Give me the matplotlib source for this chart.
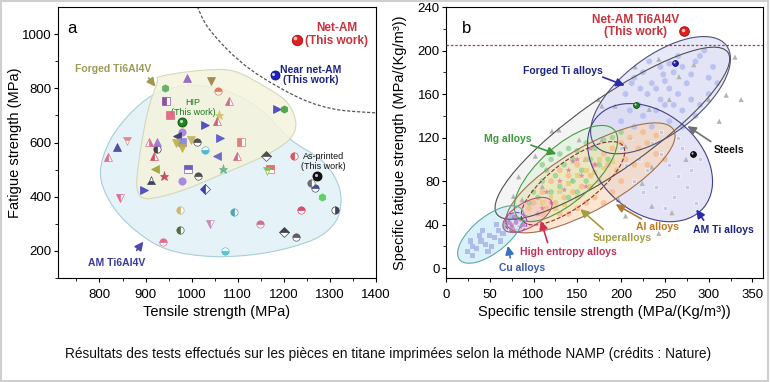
import numpy as np
import matplotlib
matplotlib.use('Agg')
import matplotlib.pyplot as plt
from matplotlib.path import Path
from matplotlib.patches import PathPatch, Ellipse, Rectangle
from matplotlib.transforms import Affine2D, ScaledTranslation

plt.rcParams['font.family'] = ['Liberation Sans', 'DejaVu Sans']

# ---------------- panel a data ----------------
a_x = [942, 989, 1041, 1057, 945, 1081, 954, 1059, 1054, 1028, 980, 969, 980, 967, 980, 999,
       1012, 1030, 1061, 1055, 1108, 1098, 1067, 991, 1014, 980, 941, 920, 918, 925, 907, 925,
       911, 897, 1030, 818, 837, 860, 844, 974, 974, 938, 1040, 1092, 1072, 1149, 1201, 1226,
       1237, 1312, 1282, 1267, 1259, 1222, 1162, 1170, 1164, 1185, 1201]
a_y = [800, 838, 828, 789, 752, 752, 700, 703, 679, 663, 638, 623, 601, 599, 578, 611,
       601, 572, 617, 552, 601, 552, 501, 503, 476, 458, 476, 501, 550, 577, 601, 601,
       462, 425, 427, 547, 584, 605, 396, 351, 277, 231, 298, 345, 198, 301, 271, 251,
       351, 351, 400, 431, 452, 550, 552, 501, 493, 724, 722]

# this work (panel a)
net_am_a = (1228, 979)
near_net_a = (1180, 850)
hip_a = (980, 675)
printed_a = (1272, 476)

# region outlines (panel a)
forged_region = [(933, 844), (1020, 866), (1092, 863), (1164, 801), (1208, 746), (1226, 672),
                 (1212, 611), (1157, 550), (1056, 476), (976, 421), (904, 393), (882, 427),
                 (886, 537), (904, 709), (925, 820)]
am_region = [(802, 488), (824, 611), (875, 721), (933, 789), (1005, 810), (1078, 789),
             (1150, 721), (1215, 611), (1280, 537), (1313, 464), (1324, 390), (1313, 310),
             (1266, 243), (1164, 194), (1049, 179), (947, 206), (875, 280), (824, 378)]
limit_curve = [(1012, 1102), (1034, 1028), (1078, 942), (1128, 869), (1186, 807),
               (1251, 752), (1317, 721), (1402, 709)]

# ---------------- panel b data ----------------
steel_x = [216, 243, 283, 330, 320, 337, 312, 300, 266, 193, 178, 174, 129, 121, 102, 83, 77, 87,
           110, 144, 197, 205, 235, 243, 258, 224, 152, 159, 178, 205, 235, 274, 255, 232]
steel_y = [185, 192, 187, 194, 159, 155, 135, 155, 176, 149, 149, 155, 127, 126, 103, 84, 66, 63,
           75, 81, 63, 48, 57, 32, 51, 78, 118, 100, 118, 112, 93, 100, 155, 146]
forged_x = [215, 225, 235, 240, 250, 260, 270, 280, 290, 295, 285, 275, 265, 255, 245, 230, 220,
            210, 225, 240, 250, 260, 270, 280, 290, 300, 305, 265, 255, 245, 205, 200, 215, 235,
            255, 270, 285, 300, 310, 248, 232, 222, 212]
forged_y = [175, 180, 170, 165, 172, 180, 185, 178, 195, 200, 190, 170, 160, 165, 155, 160, 150,
            145, 140, 145, 150, 150, 145, 155, 150, 175, 185, 195, 188, 185, 160, 135, 130, 130,
            135, 130, 140, 160, 170, 178, 190, 165, 170]
amti_x = [200, 210, 220, 235, 245, 255, 265, 275, 240, 225, 215, 260, 250, 280, 270, 230, 205,
          290, 285, 245, 265]
amti_y = [110, 120, 100, 115, 105, 95, 85, 75, 75, 70, 80, 65, 55, 90, 110, 90, 95, 100, 60,
          125, 120]
al_x = [100, 110, 120, 130, 140, 150, 160, 170, 180, 190, 200, 210, 220, 230, 240, 250, 215, 195,
        175, 155, 135, 115, 125, 145, 165, 185, 205, 225, 200, 190, 180, 170, 160, 150, 140, 130,
        110, 95, 240, 230]
al_y = [60, 70, 80, 90, 85, 95, 100, 95, 105, 110, 115, 120, 110, 115, 105, 100, 95, 90, 80, 75,
        65, 55, 60, 70, 85, 95, 100, 125, 80, 70, 60, 65, 60, 55, 50, 50, 50, 55, 122, 95]
mg_x = [95, 100, 110, 115, 120, 130, 140, 150, 160, 170, 180, 125, 135, 145, 155, 165, 175, 105,
        120, 140, 150, 160, 185, 130, 110, 190, 200, 145]
mg_y = [60, 70, 80, 90, 100, 105, 110, 108, 115, 110, 118, 85, 95, 80, 90, 100, 95, 65, 70, 65,
        70, 80, 100, 75, 95, 120, 125, 100]
super_x = [110, 120, 130, 140, 150, 160, 170, 180, 190, 150, 165, 135, 125, 175]
super_y = [60, 65, 70, 78, 85, 90, 88, 92, 98, 65, 75, 58, 55, 100]
hea_x = [75, 80, 85, 78, 90, 110, 120, 135, 140, 150, 155, 170, 145, 165, 105, 130, 115, 160]
hea_y = [40, 45, 38, 35, 48, 55, 60, 72, 90, 100, 85, 95, 98, 110, 50, 80, 70, 75]
cu_x = [25, 30, 35, 40, 45, 50, 55, 60, 65, 30, 38, 48, 58, 70, 42, 28, 52, 62, 75, 68]
cu_y = [15, 20, 18, 25, 22, 30, 28, 35, 32, 12, 30, 15, 40, 45, 35, 25, 20, 25, 48, 38]
purple_x = [75, 80, 85, 78, 72, 88]
purple_y = [38, 42, 45, 47, 42, 40]

net_am_b = (272, 218)
forged_pt_b = (261, 189)
hip_pt_b = (217, 150)
printed_pt_b = (282, 105)
limit_b = 205


def smooth_path(pts, closed=True):
    P = np.asarray(pts, float)
    n = len(P)
    verts, codes = [P[0]], [Path.MOVETO]
    segs = n if closed else n - 1
    for i in range(segs):
        p0 = P[(i - 1) % n] if (closed or i > 0) else P[0]
        p1 = P[i % n]
        p2 = P[(i + 1) % n]
        p3 = P[(i + 2) % n] if (closed or i + 2 < n) else P[-1]
        verts += [p1 + (p2 - p0) / 6, p2 - (p3 - p1) / 6, p2]
        codes += [Path.CURVE4] * 3
    return Path(verts, codes)


def sphere(ax, xy, color, edge, ms):
    ax.plot(*xy, 'o', ms=ms, mfc=color, mec=edge, mew=0.6, zorder=6)
    off = ax.transData + ScaledTranslation(-ms * 0.13 / 72, ms * 0.13 / 72, ax.figure.dpi_scale_trans)
    ax.plot(*xy, 'o', ms=ms * 0.35, mfc='white', mec='none', alpha=0.75, transform=off, zorder=7)


def ellipse(ax, center, w, h, ang, **kw):
    cx, cy = ax.transData.transform(center)
    tr = Affine2D().rotate_deg(ang).translate(cx, cy)
    e = Ellipse((0, 0), w, h, transform=tr, **kw)
    ax.add_patch(e)


fig = plt.figure(figsize=(7.7, 3.82), dpi=100)
fig.patches.append(Rectangle((0.001, 0.002), 0.997, 0.996, transform=fig.transFigure,
                             fill=False, edgecolor='#cfcfcf', linewidth=1.5))

# ================= panel a =================
ax = fig.add_axes([58 / 770, 104 / 382, 318 / 770, 271 / 382])
ax.set_xlim(710, 1400)
ax.set_ylim(100, 1100)
ax.set_xticks(range(800, 1401, 100))
ax.set_xticks(range(750, 1400, 100), minor=True)
ax.set_yticks(range(200, 1001, 200))
ax.set_yticks(range(100, 1100, 200), minor=True)

ax.add_patch(PathPatch(smooth_path(am_region), facecolor='#e5f2f8', edgecolor='#a6cfd8',
                       lw=0.8, zorder=1))
ax.add_patch(PathPatch(smooth_path(forged_region), facecolor='#f4f4dc', edgecolor='#d2d2b0',
                       lw=0.8, alpha=0.85, zorder=1.5))
ax.add_patch(PathPatch(smooth_path(limit_curve, closed=False), facecolor='none',
                       edgecolor='#555555', lw=0.9, ls=(0, (2.5, 1.5)), zorder=2))

styles = [('h', '#5aaa5a', 'full'), ('^', '#9060c0', 'full'), ('v', '#a08040', 'full'),
          ('o', '#e07050', 'top'), ('s', '#8040a0', 'left'), ('^', '#d06080', 'left'),
          ('s', '#e06080', 'full'), ('*', '#d0c060', 'full'), ('^', '#d05070', 'left'),
          ('>', '#4040c0', 'full'), ('o', '#a080e0', 'full'), ('<', '#303060', 'full'),
          ('s', '#8080e0', 'full'), ('v', '#c0b040', 'full'), ('v', '#c0b040', 'full'),
          ('v', '#c0b060', 'full'), ('o', '#404040', 'top'), ('o', '#40b0d0', 'bottom'),
          ('>', '#5050d0', 'full'), ('<', '#6060c0', 'full'), ('s', '#e07070', 'left'),
          ('^', '#d06070', 'left'), ('*', '#60b090', 'full'), ('s', '#6050b0', 'top'),
          ('o', '#404040', 'top'), ('o', '#a080e0', 'full'), ('*', '#c04060', 'full'),
          ('<', '#a0a030', 'full'), ('^', '#d04060', 'left'), ('o', '#303030', 'left'),
          ('^', '#e06080', 'right'), ('^', '#a070d0', 'full'), ('^', '#303050', 'bottom'),
          ('>', '#4040c0', 'full'), ('D', '#3030a0', 'left'), ('^', '#e06080', 'left'),
          ('^', '#4040a0', 'full'), ('v', '#e08080', 'top'), ('v', '#e06080', 'left'),
          ('o', '#d0b060', 'left'), ('o', '#406030', 'left'), ('o', '#e06080', 'top'),
          ('v', '#c080b0', 'left'), ('o', '#40a0b0', 'left'), ('o', '#40c0d0', 'bottom'),
          ('o', '#d06080', 'top'), ('D', '#303040', 'top'), ('o', '#505050', 'top'),
          ('o', '#d04060', 'top'), ('o', '#303040', 'right'), ('h', '#50d050', 'full'),
          ('o', '#304080', 'top'), ('o', '#606060', 'left'), ('o', '#e04050', 'left'),
          ('D', '#404040', 'top'), ('s', '#e06060', 'top'), ('v', '#80c050', 'top'),
          ('>', '#4040c0', 'full'), ('h', '#40a040', 'full')]
for x, y, (m, c, fs) in zip(a_x, a_y, styles):
    ms = 6.5 if m == '*' else 5.3
    ax.plot(x, y, m, ms=ms, mfc=c, mec=c, mfcalt='white', fillstyle=fs, mew=0.5,
            alpha=0.9, zorder=4)

sphere(ax, net_am_a, '#e02020', '#a01010', 7.5)
sphere(ax, near_net_a, '#2020c0', '#101070', 6.5)
sphere(ax, hip_a, '#1a8a1a', '#0a4a0a', 6.5)
sphere(ax, printed_a, '#111111', '#000000', 6.5)

ax.text(0.03, 0.95, 'a', transform=ax.transAxes, fontsize=12, va='top')
ax.text(1314, 1000, 'Net-AM\n(This work)', color='#c8323c', fontsize=8.5, fontweight='bold',
        ha='center', va='center', linespacing=1.1)
ax.text(1258, 849, 'Near net-AM\n(This work)', color='#1c2480', fontsize=7.5, fontweight='bold',
        ha='center', va='center', linespacing=1.1)
ax.text(1003, 729, 'HIP\n(This work)', color='#1a7a1a', fontsize=6.5, ha='center', va='center',
        linespacing=1.2)
ax.text(1286, 529, 'As-printed\n(This work)', color='#111111', fontsize=6.5, ha='center',
        va='center', linespacing=1.2)
ax.text(830, 871, 'Forged Ti6Al4V', color='#9c9a58', fontsize=7.5, fontweight='bold',
        ha='center', va='center')
ax.annotate('', xy=(925, 798), xytext=(903, 846),
            arrowprops=dict(arrowstyle='-|>,head_width=0.25,head_length=0.5', color='#a09a50', lw=1.2))
ax.text(838, 157, 'AM Ti6Al4V', color='#3a3aa0', fontsize=7.5, fontweight='bold',
        ha='center', va='center')
ax.annotate('', xy=(899, 242), xytext=(877, 194),
            arrowprops=dict(arrowstyle='-|>,head_width=0.25,head_length=0.5', color='#4a4ab0', lw=1.2))

ax.set_xlabel('Tensile strength (MPa)', fontsize=10.5)
ax.set_ylabel('Fatigue strength (MPa)', fontsize=10.5)
ax.xaxis.set_label_coords(0.5, -0.10)
ax.yaxis.set_label_coords(-0.113, 0.5)

# ================= panel b =================
bx = fig.add_axes([446 / 770, 104 / 382, 317 / 770, 271 / 382])
bx.set_xlim(0, 362)
bx.set_ylim(-9, 240)
bx.set_xticks(range(0, 351, 50))
bx.set_xticks(range(25, 362, 50), minor=True)
bx.set_yticks(range(0, 241, 40))
bx.set_yticks(range(20, 240, 40), minor=True)

# region fills
regions = [((190, 124), 282, 72, 35, '#ececec', 0.55, '#505050', '-'),
           ((245, 159), 165, 78, 37, '#dde0f7', 0.7, '#50507a', '-'),
           ((233, 97), 140, 100, -40, '#dcdcf4', 0.75, '#404090', '-'),
           ((165, 83), 192, 62, 30, '#fbd6b4', 0.6, '#a07050', '-'),
           ((137, 87), 130, 55, 42, '#d6f0d0', 0.45, '#4a9a4a', '-'),
           ((145, 78), 125, 45, 37, '#f3e6a8', 0.35, '#8a3030', '--'),
           ((93, 49), 55, 25, 30, '#f8c4cc', 0.6, '#c05070', '-'),
           ((80, 42), 22, 20, 0, '#e8d0f0', 0.5, '#9050b0', '--'),
           ((51, 31), 80, 36, 39, '#d2eef8', 0.8, '#60a8a8', '-')]
for c, w, h, ang, fc, al, ec, ls in regions:
    ellipse(bx, c, w, h, ang, facecolor=fc, alpha=al, edgecolor='none', zorder=1)

bx.scatter(steel_x, steel_y, marker='^', s=14, color='#b4b4b4', edgecolors='none', zorder=2)
bx.scatter(forged_x, forged_y, marker='h', s=22, color='#b7bff0', edgecolors='none', alpha=0.9, zorder=2)
bx.scatter(amti_x, amti_y, marker='s', s=10, color='#c8c8e4', edgecolors='white', lw=0.4, zorder=2)
bx.scatter(al_x, al_y, marker='o', s=18, color='#f6b987', edgecolors='none', alpha=0.75, zorder=2)
bx.scatter(mg_x, mg_y, marker='o', s=16, color='#8cd08c', edgecolors='none', alpha=0.75, zorder=2)
bx.scatter(super_x, super_y, marker='s', s=12, color='#e3cf78', edgecolors='none', alpha=0.8, zorder=2)
bx.scatter(hea_x, hea_y, marker='*', s=22, color='#e070a8', edgecolors='none', alpha=0.8, zorder=2)
bx.scatter(cu_x, cu_y, marker='s', s=14, color='#a9b9e8', edgecolors='none', alpha=0.9, zorder=2)
bx.scatter(purple_x, purple_y, marker='o', s=12, color='#b070d0', edgecolors='none', alpha=0.7, zorder=2)

for c, w, h, ang, fc, al, ec, ls in regions:
    ellipse(bx, c, w, h, ang, facecolor='none', edgecolor=ec, lw=0.8, ls=ls, zorder=3)

bx.axhline(limit_b, color='#a04050', lw=0.9, ls=(0, (2, 1.5)), zorder=3)

sphere(bx, net_am_b, '#e02020', '#a01010', 7)
sphere(bx, forged_pt_b, '#2020c0', '#101070', 4.2)
sphere(bx, hip_pt_b, '#1a8a1a', '#0a4a0a', 4.2)
sphere(bx, printed_pt_b, '#111111', '#000000', 4.2)

bx.text(0.05, 0.95, 'b', transform=bx.transAxes, fontsize=12, va='top')
bx.text(216, 222.5, 'Net-AM Ti6Al4V\n(This work)', color='#c8323c', fontsize=8.5, fontweight='bold',
        ha='center', va='center', linespacing=1.1)

labels_b = [('Forged Ti alloys', (134, 181), (176, 176.5), (207, 167), '#1c2480', '#2a2ab0'),
            ('Mg alloys', (71, 119), (94, 114), (129, 104), '#3a9a3a', '#3a9a3a'),
            ('Steels', (323, 108.5), (305, 115), (273, 132), '#111111', '#707070'),
            ('AM Ti alloys', (317, 35), (296, 42), (284, 56), '#1c2480', '#2a2ab0'),
            ('Al alloys', (241, 38), (226, 44), (191, 60), '#c07820', '#b07a30'),
            ('Superalloys', (201, 27.6), (182, 34), (151, 56), '#a0a040', '#a0a040'),
            ('High entropy alloys', (139.5, 14.7), (117, 21), (107.5, 46), '#c0305a', '#d03050'),
            ('Cu alloys', (87, 0), (74, 7), (70, 23), '#3a5ab0', '#3a70c0')]
for txt, pos, start, end, tc, acol in labels_b:
    bx.text(*pos, txt, color=tc, fontsize=7.5, fontweight='bold', ha='center', va='center', zorder=8)
    bx.annotate('', xy=end, xytext=start, zorder=8,
                arrowprops=dict(arrowstyle='-|>,head_width=0.25,head_length=0.5', color=acol, lw=1.2))

bx.set_xlabel('Specific tensile strength (MPa/(Kg/m³))', fontsize=10.5)
bx.set_ylabel('Specific fatigue strength (MPa/(Kg/m³))', fontsize=10.5)
bx.xaxis.set_label_coords(0.5, -0.10)
bx.yaxis.set_label_coords(-0.123, 0.5)

for a in (ax, bx):
    a.tick_params(which='major', direction='out', length=3, width=0.8, labelsize=9.5, pad=5)
    a.tick_params(axis='y', which='major', pad=1.5)
    a.tick_params(which='minor', direction='out', length=2, width=0.6)
    for s in a.spines.values():
        s.set_linewidth(0.8)

fig.text(388 / 770, 1 - 354 / 382,
         'Résultats des tests effectués sur les pièces en titane imprimées selon la méthode NAMP (crédits : Nature)',
         ha='center', va='center', fontsize=9.9, color='#111111')

fig.savefig('out.png', dpi=100)
